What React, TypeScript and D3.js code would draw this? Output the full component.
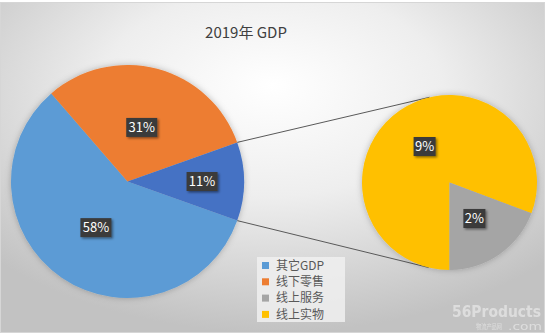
import React from "react";
import * as d3 from "d3";

const title = "2019年 GDP";
const mainCategories = ["其它GDP", "线下零售"];
const mainValues = [58.2, 30.9];
const subCategories = ["线上实物", "线上服务"];
const subValues = [8.8, 2.1];
const legendCategories = ["其它GDP", "线下零售", "线上服务", "线上实物"];

const colors: Record<string, string> = {
  其它GDP: "#5B9BD5",
  线下零售: "#ED7D31",
  线上服务: "#A5A5A5",
  线上实物: "#FFC000",
  其他: "#4472C4",
};

const W = 555;
const H = 336;
const FONT = "'Noto Sans CJK SC', 'Noto Sans', sans-serif";

type Slice = { name: string; v: number };

function Label({ x, y, text }: { x: number; y: number; text: string }) {
  const w = text.length > 2 ? 31 : 22;
  const h = 19;
  return (
    <g>
      <rect x={x - w / 2} y={y - h / 2} width={w} height={h} fill="#3a3a3a" filter="url(#lblShadow)" />
      <text x={x} y={y + 4.5} textAnchor="middle" fill="#ffffff" fontSize={13} fontFamily={FONT}>
        {text}
      </text>
    </g>
  );
}

export default function App() {
  const total = d3.sum(mainValues) + d3.sum(subValues);
  const otherVal = d3.sum(subValues);
  const mainData: Slice[] = [
    ...mainCategories.map((c, i) => ({ name: c, v: mainValues[i] })),
    { name: "其他", v: otherVal },
  ];
  const subData: Slice[] = subCategories.map((c, i) => ({ name: c, v: subValues[i] }));

  const cx1 = 127.5, cy1 = 181.5, r1 = 116.5;
  const cx2 = 449.5, cy2 = 182.5, r2 = 87.5;

  const otherAngle = (2 * Math.PI * otherVal) / total;
  const start1 = Math.PI / 2 + otherAngle / 2;
  const pieMain = d3.pie<Slice>().sort(null).value((d) => d.v).startAngle(start1).endAngle(start1 + 2 * Math.PI);
  const pieSub = d3.pie<Slice>().sort(null).value((d) => d.v).startAngle(Math.PI).endAngle(3 * Math.PI);
  const arc1 = d3.arc<d3.PieArcDatum<Slice>>().innerRadius(0).outerRadius(r1);
  const arc2 = d3.arc<d3.PieArcDatum<Slice>>().innerRadius(0).outerRadius(r2);
  const mainArcs = pieMain(mainData);
  const subArcs = pieSub(subData);

  const fmt = (v: number) => `${Math.round((v / total) * 100)}%`;

  const edge = (a: number) => [cx1 + r1 * Math.sin(a), cy1 - r1 * Math.cos(a)];
  const tangent = (p: number[], sign: number) => {
    const dx = p[0] - cx2, dy = p[1] - cy2;
    const d = Math.hypot(dx, dy);
    const base = Math.atan2(dy, dx);
    const t = Math.acos(r2 / d);
    const a = base + sign * t;
    return [cx2 + r2 * Math.cos(a), cy2 + r2 * Math.sin(a)];
  };
  const pTop = edge(Math.PI / 2 - otherAngle / 2);
  const pBot = edge(Math.PI / 2 + otherAngle / 2);
  const tTop = tangent(pTop, 1);
  const tBot = tangent(pBot, -1);

  const labelPos = (a: d3.PieArcDatum<Slice>, cx: number, cy: number, r: number, k: number) => {
    const m = (a.startAngle + a.endAngle) / 2;
    return [cx + r * k * Math.sin(m), cy - r * k * Math.cos(m)];
  };

  return (
    <svg width={W} height={H} style={{ position: "fixed", left: 0, top: 0 }}>
      <defs>
        <radialGradient id="bg" cx="50%" cy="30%" r="70%" fx="50%" fy="25%">
          <stop offset="0%" stopColor="#ffffff" />
          <stop offset="45%" stopColor="#eeeeee" />
          <stop offset="100%" stopColor="#c2c2c2" />
        </radialGradient>
        <filter id="lblShadow" x="-30%" y="-30%" width="170%" height="170%">
          <feDropShadow dx="1.5" dy="1.5" stdDeviation="1.2" floodColor="#000" floodOpacity="0.45" />
        </filter>
        <filter id="pieShadow" x="-20%" y="-20%" width="140%" height="140%">
          <feDropShadow dx="0" dy="0" stdDeviation="3" floodColor="#000" floodOpacity="0.25" />
        </filter>
      </defs>
      <rect x={0} y={0} width={W} height={H} fill="#ffffff" />
      <rect x={0.5} y={2.5} width={544} height={330} fill="url(#bg)" stroke="#d6d6d6" strokeWidth={1} />

      <text x={246} y={38} textAnchor="middle" fontSize={15} fill="#404040" fontFamily={FONT}>
        {title}
      </text>

      <line x1={pTop[0]} y1={pTop[1]} x2={tTop[0]} y2={tTop[1]} stroke="#595959" strokeWidth={1} />
      <line x1={pBot[0]} y1={pBot[1]} x2={tBot[0]} y2={tBot[1]} stroke="#595959" strokeWidth={1} />

      <g transform={`translate(${cx1},${cy1})`} filter="url(#pieShadow)">
        {mainArcs.map((a) => (
          <path key={a.data.name} d={arc1(a) || ""} fill={colors[a.data.name]} />
        ))}
      </g>
      <g transform={`translate(${cx2},${cy2})`} filter="url(#pieShadow)">
        {subArcs.map((a) => (
          <path key={a.data.name} d={arc2(a) || ""} fill={colors[a.data.name]} />
        ))}
      </g>

      {mainArcs.map((a) => {
        const k = a.data.name === "其他" ? 0.64 : 0.48;
        const [x, y] = labelPos(a, cx1, cy1, r1, k);
        return <Label key={a.data.name} x={x} y={y} text={fmt(a.data.v)} />;
      })}
      {subArcs.map((a) => {
        const [x, y] = labelPos(a, cx2, cy2, r2, 0.5);
        return <Label key={a.data.name} x={x} y={y} text={fmt(a.data.v)} />;
      })}

      <g>
        <rect x={257} y={257} width={88} height={65} fill="#f0f0f0" opacity={0.85} />
        {legendCategories.map((c, i) => (
          <g key={c} transform={`translate(262,${265.5 + i * 16.3})`}>
            <rect x={0} y={-3.5} width={7} height={7} fill={colors[c]} />
            <text x={14} y={4.2} fontSize={12} fill="#595959" fontFamily={FONT}>
              {c}
            </text>
          </g>
        ))}
      </g>

      <g fill="#ffffff" opacity={0.45}>
        <text x={452} y={317} fontSize={15} fontWeight="bold" fontFamily="'DejaVu Sans', sans-serif"
          textLength={89} lengthAdjust="spacingAndGlyphs">56Products</text>
        <text x={476} y={329} fontSize={6.5} fontFamily={FONT} textLength={26} lengthAdjust="spacingAndGlyphs">物流产品网</text>
        <text x={508} y={330} fontSize={11} fontFamily="'DejaVu Sans', sans-serif"
          textLength={34} lengthAdjust="spacingAndGlyphs">.com</text>
      </g>
    </svg>
  );
}
